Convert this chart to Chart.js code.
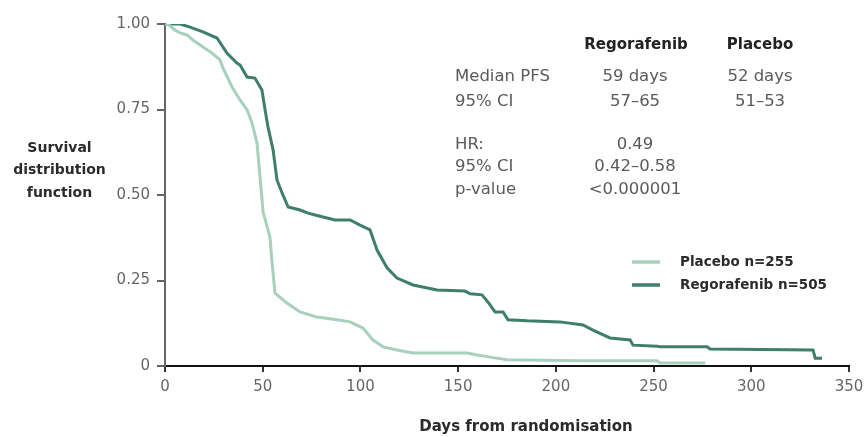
<!DOCTYPE html>
<html>
<head>
<meta charset="utf-8">
<script src="https://cdn.jsdelivr.net/npm/chart.js@4/dist/chart.umd.min.js"></script>
<style>
  html, body { margin: 0; padding: 0; background: #fff; }
  #wrap { width: 864px; height: 437px; position: relative; }
</style>
</head>
<body>
<div id="wrap"><canvas id="c"></canvas></div>
<script>
// ---- data ----
const regDays = [0, 7.7, 12.8, 19.4, 26.6, 31.7, 36.8, 38.4, 42, 46, 49.6, 51.2, 52.7, 55.3, 57.3, 59.9, 63, 69.1, 73.2, 77.8, 87, 94.7, 99.8, 104.9, 108.5, 113.6, 118.7, 126.9, 139.2, 153.5, 156.1, 162.2, 165.3, 168.9, 173, 175.5, 185.3, 202.1, 213.9, 219, 227.7, 238, 239.5, 251.8, 253.3, 277.4, 278.9, 331.6, 332.7, 336.2];
const regSurv = [1, 1, 0.991, 0.977, 0.959, 0.915, 0.886, 0.88, 0.845, 0.842, 0.807, 0.749, 0.699, 0.632, 0.544, 0.506, 0.465, 0.456, 0.447, 0.44, 0.427, 0.427, 0.412, 0.398, 0.339, 0.287, 0.257, 0.237, 0.222, 0.219, 0.211, 0.208, 0.187, 0.158, 0.158, 0.135, 0.132, 0.129, 0.12, 0.105, 0.082, 0.076, 0.061, 0.058, 0.056, 0.056, 0.05, 0.047, 0.023, 0.023];
const plaDays = [0, 1.5, 5.1, 7.7, 11.3, 14.3, 19.4, 24.1, 28.1, 29.7, 34.3, 38.4, 42, 44.5, 47.1, 48.6, 50.2, 53.7, 54.8, 56.3, 62.4, 69.1, 77.8, 88, 94.7, 101.3, 106.4, 111.6, 118.7, 126.9, 154.6, 159.7, 166.3, 175, 212.4, 251.8, 253.3, 276.4];
const plaSurv = [1, 1, 0.982, 0.974, 0.968, 0.953, 0.933, 0.915, 0.895, 0.871, 0.816, 0.778, 0.749, 0.711, 0.652, 0.553, 0.45, 0.377, 0.301, 0.213, 0.184, 0.158, 0.143, 0.135, 0.129, 0.111, 0.076, 0.056, 0.047, 0.038, 0.038, 0.032, 0.026, 0.018, 0.015, 0.015, 0.009, 0.009];
const seriesLabels = ['Placebo n=255', 'Regorafenib n=505'];
const xTickValues = [0, 50, 100, 150, 200, 250, 300, 350];
const yTickLabels = {0: '0', 0.25: '0.25', 0.5: '0.50', 0.75: '0.75', 1: '1.00'};
const tableHeaders = ['Regorafenib', 'Placebo'];
const tableRowLabels = ['Median PFS', '95% CI', 'HR:', '95% CI', 'p-value'];
const tableRegValues = ['59 days', '57\u201365', '0.49', '0.42\u20130.58', '<0.000001'];
const tablePlaValues = ['52 days', '51\u201353', '', '', ''];
const yTitleLines = ['Survival', 'distribution', 'function'];
const xTitle = 'Days from randomisation';

const DARK = '#3f7d6c';
const LIGHT = '#a7d0bd';
const FONT = 'DejaVu Sans';

function toPoints(xs, ys) { return xs.map((x, i) => ({x: x, y: ys[i]})); }

const textPlugin = {
  id: 'texts',
  afterDraw(chart) {
    const ctx = chart.ctx;
    ctx.save();
    ctx.fillStyle = '#2b2b2b';
    ctx.font = 'bold 14px "' + FONT + '"';
    ctx.textAlign = 'center';
    ctx.textBaseline = 'middle';
    const yT = [148, 170, 193];
    yTitleLines.forEach((t, i) => ctx.fillText(t, 59.5, yT[i]));
    ctx.font = 'bold 15px "' + FONT + '"';
    ctx.fillText(xTitle, 526, 427);
    ctx.font = 'bold 15px "' + FONT + '"';
    ctx.fillStyle = '#222';
    ctx.fillText(tableHeaders[0], 636, 45);
    ctx.fillText(tableHeaders[1], 760, 45);
    const rowY = [77, 102, 145, 167, 190];
    ctx.font = '16.5px "' + FONT + '"';
    ctx.fillStyle = '#5a5a5a';
    tableRowLabels.forEach((t, i) => {
      ctx.textAlign = 'left';
      ctx.fillText(t, 455, rowY[i]);
      ctx.textAlign = 'center';
      ctx.fillText(tableRegValues[i], 635, rowY[i]);
      if (tablePlaValues[i]) ctx.fillText(tablePlaValues[i], 760, rowY[i]);
    });
    const legY = [262, 285];
    const legC = [LIGHT, DARK];
    ctx.font = 'bold 13.5px "' + FONT + '"';
    ctx.textAlign = 'left';
    seriesLabels.forEach((t, i) => {
      ctx.strokeStyle = legC[i];
      ctx.lineWidth = 3.5;
      ctx.beginPath();
      ctx.moveTo(632, legY[i]);
      ctx.lineTo(660, legY[i]);
      ctx.stroke();
      ctx.fillStyle = '#2b2b2b';
      ctx.fillText(t, 680, legY[i]);
    });
    ctx.restore();
  }
};

new Chart(document.getElementById('c'), {
  type: 'line',
  data: {
    datasets: [
      { label: seriesLabels[0], data: toPoints(plaDays, plaSurv), borderColor: LIGHT, borderWidth: 3, pointRadius: 0, tension: 0, fill: false },
      { label: seriesLabels[1], data: toPoints(regDays, regSurv), borderColor: DARK, borderWidth: 3, pointRadius: 0, tension: 0, fill: false }
    ]
  },
  options: {
    responsive: true,
    maintainAspectRatio: false,
    animation: false,
    layout: { padding: { left: 0, right: 15, top: 24, bottom: 0 } },
    plugins: { legend: { display: false }, tooltip: { enabled: false } },
    scales: {
      x: {
        type: 'linear', min: 0, max: 350,
        afterBuildTicks(scale) { scale.ticks = xTickValues.map(v => ({value: v})); },
        afterFit(scale) { scale.height = 71; scale.paddingLeft = 0; scale.paddingRight = 0; },
        ticks: { font: { family: FONT, size: 15 }, color: '#666', padding: 6, maxRotation: 0 },
        grid: { drawOnChartArea: false, drawTicks: true, tickLength: 6, color: '#333', lineWidth: 2 },
        border: { display: true, color: '#111', width: 2 }
      },
      y: {
        min: 0, max: 1,
        afterBuildTicks(scale) { scale.ticks = Object.keys(yTickLabels).map(v => ({value: Number(v)})); },
        afterFit(scale) { scale.width = 165; },
        ticks: { font: { family: FONT, size: 15 }, color: '#666', padding: 7, callback: v => yTickLabels[v] },
        grid: { drawOnChartArea: false, drawTicks: true, tickLength: 8, color: '#666', lineWidth: 2 },
        border: { display: true, color: '#666', width: 2 }
      }
    }
  },
  plugins: [textPlugin]
});
</script>
</body>
</html>
